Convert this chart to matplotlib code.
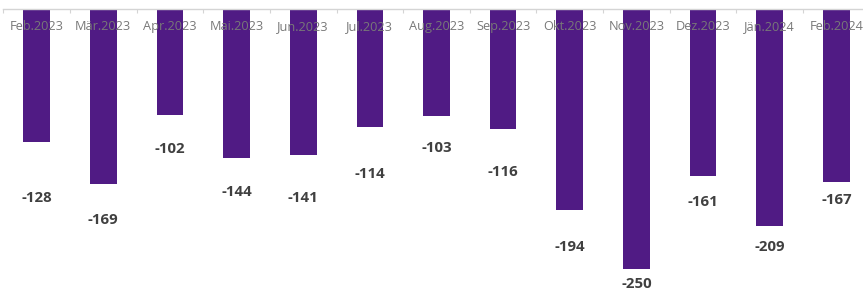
import matplotlib
matplotlib.use("Agg")
import matplotlib.pyplot as plt
from matplotlib.ticker import FixedLocator

months = ["Feb.2023", "Mär.2023", "Apr.2023", "Mai.2023", "Jun.2023", "Jul.2023",
          "Aug.2023", "Sep.2023", "Okt.2023", "Nov.2023", "Dez.2023", "Jän.2024", "Feb.2024"]
values = [-128, -169, -102, -144, -141, -114, -103, -116, -194, -250, -161, -209, -167]

# style: vertical gap (pixels) between each bar end and its value label
label_gap_px = [56, 36, 34, 34, 43, 47, 32, 43, 37, 15, 26, 21, 18]

BAR_COLOR = "#501B84"
W, H, DPI = 863, 289, 100

fig = plt.figure(figsize=(W / DPI, H / DPI), dpi=DPI)
top_px = 8.5
ax = fig.add_axes([3.2 / W, 0, 866.6 / W, 1 - top_px / H])

x = list(range(len(months)))
ax.bar(x, values, width=0.4, color=BAR_COLOR, zorder=1)

ax.set_xlim(-0.5, len(months) - 0.5)
ax.set_ylim(-(H - top_px) / 1.04, 0)

for s in ["left", "right", "bottom"]:
    ax.spines[s].set_visible(False)
ax.spines["top"].set_color("#d4d4d4")
ax.spines["top"].set_linewidth(1.0)

ax.set_yticks([])
ax.set_xticks([])
ax.xaxis.set_minor_locator(FixedLocator([i - 0.5 for i in range(len(months) + 1)]))
ax.tick_params(axis="x", which="minor", top=True, bottom=False, direction="in",
               length=3, width=0.8, color="#d4d4d4")

ax_h_px = H - top_px
for xi, m in zip(x, months):
    ax.text(xi, 1 - 18 / ax_h_px, m, transform=ax.get_xaxis_transform(),
            ha="center", va="center", fontsize=9.2, color="#787878",
            family=["Open Sans", "DejaVu Sans"], zorder=5)

for xi, v, g in zip(x, values, label_gap_px):
    ax.annotate(f"{v}", xy=(xi, v), xytext=(0, -g), textcoords="offset pixels",
                ha="center", va="center", fontsize=10.8, fontweight="bold",
                color="#404040", family=["Open Sans", "DejaVu Sans"],
                annotation_clip=False)

fig.savefig("out.png", dpi=DPI)
